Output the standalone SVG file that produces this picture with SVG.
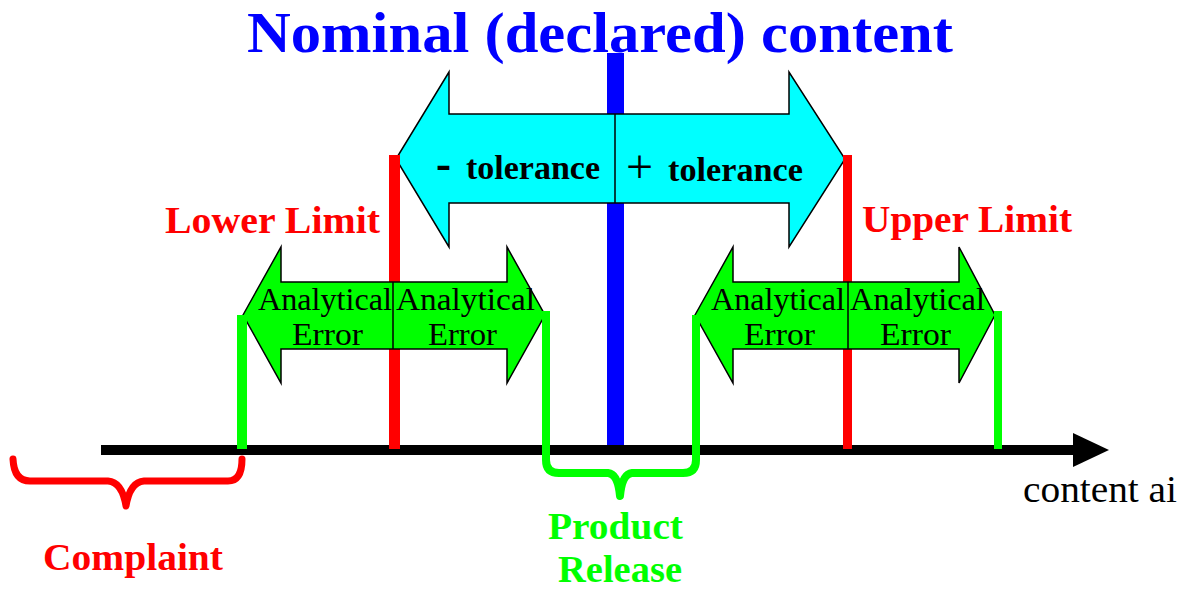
<svg xmlns="http://www.w3.org/2000/svg" width="1187" height="590" viewBox="0 0 1187 590">
<style>
  .serif { font-family: "Liberation Serif", "Times New Roman", serif; }
  .b { font-weight: bold; }
  .arrow { stroke: #000; stroke-width: 1.5; stroke-linejoin: miter; }
  .cyan { fill: #00FFFF; }
  .green { fill: #00FF00; }
  .div { stroke: #000; stroke-width: 1.5; }
  .red { fill: #FF0000; }
  .grn { fill: #00FF00; }
  .brace-r { stroke: #FF0000; stroke-width: 7; fill: none; stroke-linejoin: round; stroke-linecap: round; }
  .brace-g { stroke: #00FF00; stroke-width: 8; fill: none; stroke-linejoin: round; }
  .ae { font-size: 32px; fill: #000; }
</style>
<rect width="1187" height="590" fill="#fff"/>

<g id="title">
  <text class="serif b" x="247" y="52" font-size="58" fill="#0000FF" textLength="706" lengthAdjust="spacingAndGlyphs">Nominal (declared) content</text>
</g>

<g id="nominal-bar">
  <rect x="607" y="53" width="17" height="396" fill="#0000FF"/>
</g>

<g id="connectors">
  <rect x="101" y="445" width="973" height="10" fill="#000"/>
  <polygon points="1073,433 1109,450 1073,467" fill="#000"/>
</g>

<g id="tolerance-arrow">
  <polygon class="arrow cyan" points="396,159 449,72 449,114 789,114 789,72 845,159 789,247 789,203 449,203 449,247"/>
  <line class="div" x1="615" y1="114" x2="615" y2="203"/>
  <text class="serif b" x="436" y="179" font-size="48" fill="#000" textLength="15" lengthAdjust="spacingAndGlyphs">-</text>
  <text class="serif b" x="466" y="179" font-size="34" fill="#000" textLength="134" lengthAdjust="spacingAndGlyphs">tolerance</text>
  <text class="serif" x="626" y="183" font-size="48" fill="#000">+</text>
  <text class="serif b" x="668" y="181" font-size="34" fill="#000" textLength="135" lengthAdjust="spacingAndGlyphs">tolerance</text>
</g>

<g id="limits">
  <rect class="red" x="389" y="155" width="11" height="294"/>
  <rect class="red" x="843" y="155" width="9" height="294"/>
</g>

<g id="lower-limit">
  <text class="serif b" x="165" y="233" font-size="38" fill="#FF0000" textLength="215" lengthAdjust="spacingAndGlyphs">Lower Limit</text>
</g>
<g id="upper-limit">
  <text class="serif b" x="862" y="232" font-size="38" fill="#FF0000" textLength="210" lengthAdjust="spacingAndGlyphs">Upper Limit</text>
</g>

<g id="error-arrow-left">
  <polygon class="arrow green" points="243,315 281,247 281,282 507,282 507,247 545,315 507,383 507,349 281,349 281,383"/>
  <line class="div" x1="393" y1="282" x2="393" y2="349"/>
  <text class="serif ae" x="258" y="310" textLength="134" lengthAdjust="spacingAndGlyphs">Analytical</text>
  <text class="serif ae" x="292" y="345" textLength="71" lengthAdjust="spacingAndGlyphs">Error</text>
  <text class="serif ae" x="396" y="310" textLength="139" lengthAdjust="spacingAndGlyphs">Analytical</text>
  <text class="serif ae" x="428" y="345" textLength="69" lengthAdjust="spacingAndGlyphs">Error</text>
</g>

<g id="error-arrow-right">
  <polygon class="arrow green" points="695,315 733,247 733,282 959,282 959,247 995,315 959,383 959,349 733,349 733,383"/>
  <line class="div" x1="848" y1="282" x2="848" y2="349"/>
  <text class="serif ae" x="711" y="310" textLength="134" lengthAdjust="spacingAndGlyphs">Analytical</text>
  <text class="serif ae" x="744" y="345" textLength="71" lengthAdjust="spacingAndGlyphs">Error</text>
  <text class="serif ae" x="850" y="310" textLength="135" lengthAdjust="spacingAndGlyphs">Analytical</text>
  <text class="serif ae" x="880" y="345" textLength="71" lengthAdjust="spacingAndGlyphs">Error</text>
</g>

<g id="green-lines">
  <rect class="grn" x="237" y="315" width="10" height="134"/>
  <rect class="grn" x="994" y="311" width="8" height="138"/>
</g>

<g id="product-release">
  <path class="brace-g" d="M546,311 L546,460 Q546,473 559,473 L608,473 Q618,474 620,496 Q622,474 632,473 L683,473 Q696,473 696,460 L696,315"/>
  <text class="serif b" x="548" y="539" font-size="37" fill="#00FF00" textLength="135" lengthAdjust="spacingAndGlyphs">Product</text>
  <text class="serif b" x="558" y="582" font-size="37" fill="#00FF00" textLength="124" lengthAdjust="spacingAndGlyphs">Release</text>
</g>

<g id="complaint">
  <path class="brace-r" d="M13,459 Q14,481 30,481 L108,481 Q122,482 126,506 Q130,482 144,481 L228,481 Q242,481 242,459"/>
  <text class="serif b" x="43" y="570" font-size="37" fill="#FF0000" textLength="180" lengthAdjust="spacingAndGlyphs">Complaint</text>
</g>

<g id="axis-label">
  <text class="serif" x="1023" y="502" font-size="37" fill="#000" textLength="154" lengthAdjust="spacingAndGlyphs">content ai</text>
</g>
</svg>
